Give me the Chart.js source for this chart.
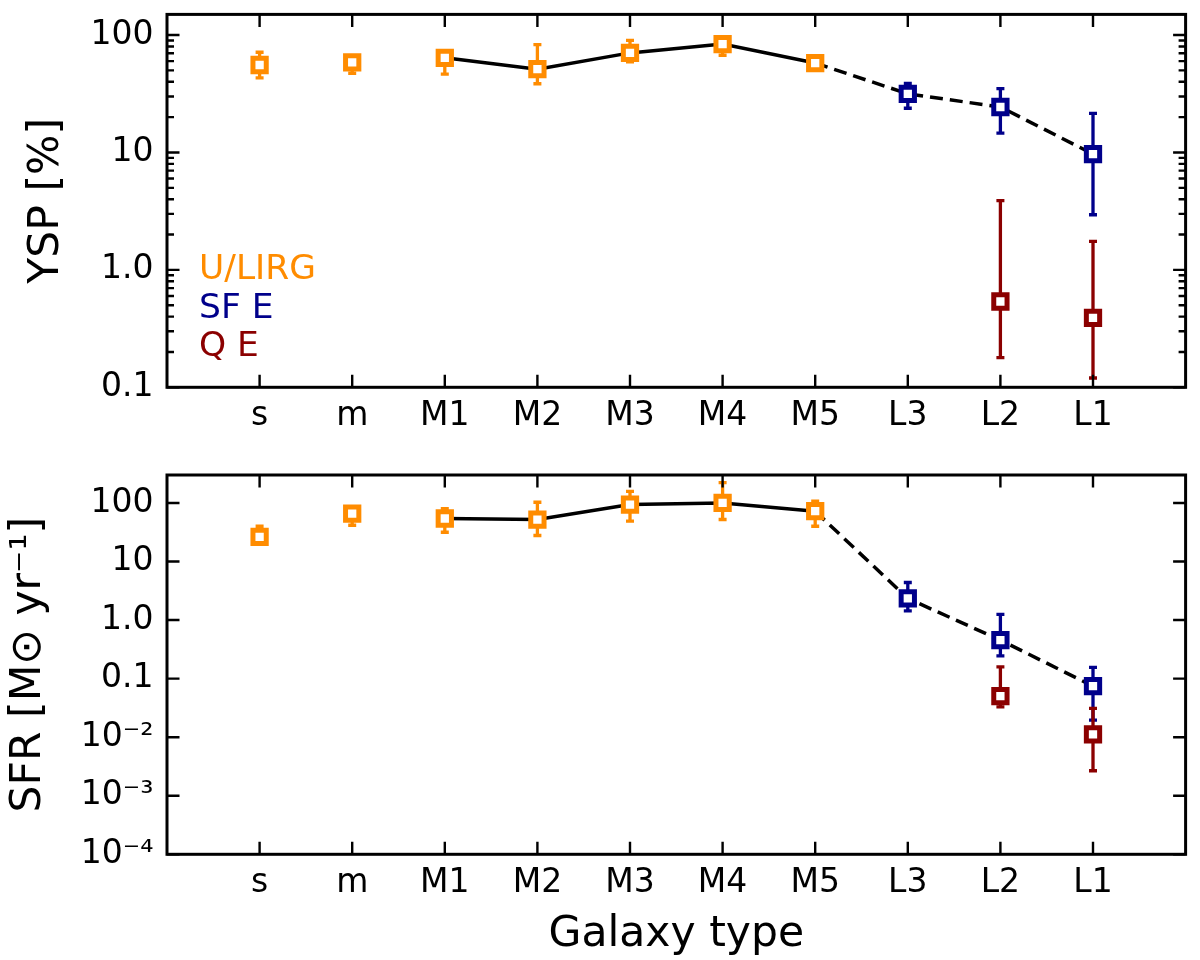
<!DOCTYPE html>
<html>
<head>
<meta charset="utf-8">
<script src="https://cdn.jsdelivr.net/npm/chart.js@4.4.1/dist/chart.umd.min.js"></script>
<style>
  html, body { margin: 0; padding: 0; background: #fff; }
  #wrap { position: relative; width: 1200px; height: 960px; }
  canvas { position: absolute; left: 0; }
</style>
</head>
<body>
<div id="wrap">
  <canvas id="ysp" width="1200" height="460" style="top:0"></canvas>
  <canvas id="sfr" width="1200" height="500" style="top:460px"></canvas>
</div>
<script>
const galaxyTypes = ['s', 'm', 'M1', 'M2', 'M3', 'M4', 'M5', 'L3', 'L2', 'L1'];

// series: U/LIRG, star-forming ellipticals, quiescent ellipticals
const ulirgTypes = ['s', 'm', 'M1', 'M2', 'M3', 'M4', 'M5'];
const sfeTypes = ['L3', 'L2', 'L1'];
const qeTypes = ['L2', 'L1'];

// YSP [%]
const ulirgYsp   = [55.6, 58.5, 64, 51.2, 70.5, 83.8, 57.8];
const ulirgYspLo = [43.2, 47.3, 46.5, 38.5, 59.2, 67.3, 55.5];
const ulirgYspHi = [71.4, 64, 69, 82.8, 90.3, 90, 60];
const sfeYsp   = [31.6, 24.4, 9.7];
const sfeYspLo = [23.8, 14.6, 2.95];
const sfeYspHi = [38.7, 35, 21.5];
const qeYsp   = [0.538, 0.391];
const qeYspLo = [0.179, 0.12];
const qeYspHi = [3.89, 1.75];

// SFR [Msun / yr]
const ulirgSfr   = [26.3, 65.9, 54.2, 52.1, 93.9, 100, 72.2];
const ulirgSfrLo = [20, 41.6, 31.6, 27.8, 48.8, 52.1, 40];
const ulirgSfrHi = [40, 80, 80.2, 102.8, 158, 223, 107];
const sfeSfr   = [2.34, 0.454, 0.0744];
const sfeSfrLo = [1.44, 0.245, 0.0196];
const sfeSfrHi = [4.38, 1.25, 0.155];
const qeSfr   = [0.0502, 0.0112];
const qeSfrLo = [0.033, 0.00267];
const qeSfrHi = [0.159, 0.031];

const yspTicks = [0.1, 1, 10, 100];
const yspTickLabels = ['0.1', '1.0', '10', '100'];
const sfrTicks = [1e-4, 1e-3, 1e-2, 0.1, 1, 10, 100];
const sfrTickLabels = ['10⁻⁴', '10⁻³', '10⁻²', '0.1', '1.0', '10', '100'];

const legendLabels = ['U/LIRG', 'SF E', 'Q E'];

const ORANGE = '#ff8c00', NAVY = '#00008b', DARKRED = '#8b0000';
const FONT = 'DejaVu Sans';

Chart.defaults.font.family = FONT;
Chart.defaults.color = '#000';

const pts = (types, vals) => types.map((t, i) => ({ x: galaxyTypes.indexOf(t), y: vals[i] }));

function markers(data, lo, hi, color) {
  return {
    data, errLo: lo, errHi: hi,
    showLine: false,
    pointStyle: 'rect',
    pointRadius: 9.4,
    pointHoverRadius: 9.4,
    pointBorderWidth: 5,
    borderColor: color,
    pointBackgroundColor: '#fff',
    order: 1
  };
}

function panelDatasets(u, uLo, uHi, s, sLo, sHi, q, qLo, qHi) {
  const uPts = pts(ulirgTypes, u);
  const sPts = pts(sfeTypes, s);
  const m1 = ulirgTypes.indexOf('M1');
  return [
    markers(uPts, uLo, uHi, ORANGE),
    markers(sPts, sLo, sHi, NAVY),
    markers(pts(qeTypes, q), qLo, qHi, DARKRED),
    { data: uPts.slice(m1), borderColor: '#000', borderWidth: 3.5, pointRadius: 0, order: 2 },
    { data: [uPts[uPts.length - 1]].concat(sPts), borderColor: '#000', borderWidth: 3.5,
      borderDash: [13, 7], pointRadius: 0, order: 2 }
  ];
}

// vertical error bars with caps, under the markers
const errorBars = {
  id: 'errorBars',
  beforeDatasetsDraw(chart) {
    const { ctx, scales: { y } } = chart;
    chart.data.datasets.forEach((ds, di) => {
      if (!ds.errLo) return;
      const meta = chart.getDatasetMeta(di);
      ctx.save();
      ctx.strokeStyle = ds.borderColor;
      ctx.lineWidth = 3.3;
      meta.data.forEach((p, i) => {
        const yl = y.getPixelForValue(ds.errLo[i]);
        const yh = y.getPixelForValue(ds.errHi[i]);
        ctx.beginPath();
        ctx.moveTo(p.x, yl); ctx.lineTo(p.x, yh);
        ctx.moveTo(p.x - 4, yl); ctx.lineTo(p.x + 4, yl);
        ctx.moveTo(p.x - 4, yh); ctx.lineTo(p.x + 4, yh);
        ctx.stroke();
      });
      ctx.restore();
    });
  }
};

// matplotlib-like box with inward ticks on all sides
const frame = {
  id: 'frame',
  afterDraw(chart, args, opts) {
    const { ctx, chartArea: a, scales: { x, y } } = chart;
    ctx.save();
    ctx.strokeStyle = '#000';
    ctx.lineWidth = 2.4;
    ctx.beginPath();
    x.ticks.forEach(t => {
      const px = x.getPixelForValue(t.value);
      ctx.moveTo(px, a.bottom); ctx.lineTo(px, a.bottom - 12.5);
      ctx.moveTo(px, a.top); ctx.lineTo(px, a.top + 12.5);
    });
    const hTick = (v, len) => {
      const py = y.getPixelForValue(v);
      ctx.moveTo(a.left, py); ctx.lineTo(a.left + len, py);
      ctx.moveTo(a.right, py); ctx.lineTo(a.right - len, py);
    };
    y.ticks.forEach(t => hTick(t.value, 12.5));
    if (opts.minor) {
      for (let e = Math.floor(Math.log10(y.min)); e <= Math.ceil(Math.log10(y.max)); e++) {
        for (let m = 2; m < 10; m++) {
          const v = m * Math.pow(10, e);
          if (v > y.min && v < y.max) hTick(v, 7);
        }
      }
    }
    ctx.stroke();
    ctx.lineWidth = 3;
    ctx.strokeRect(a.left, a.top, a.width, a.height);
    ctx.restore();
  }
};

const textLegend = {
  id: 'textLegend',
  afterDraw(chart, args, opts) {
    if (!opts.items) return;
    const { ctx, chartArea: a } = chart;
    ctx.save();
    ctx.font = '34.5px "' + FONT + '"';
    ctx.textBaseline = 'alphabetic';
    ctx.textAlign = 'left';
    opts.items.forEach((it, i) => {
      ctx.fillStyle = it.color;
      ctx.fillText(it.text, a.left + 32, a.top + 265 + i * 38.5);
    });
    ctx.restore();
  }
};

function xScale(axisHeight, title) {
  return {
    type: 'linear', min: -1, max: 10,
    afterBuildTicks: s => { s.ticks = galaxyTypes.map((t, i) => ({ value: i })); },
    afterFit: s => { s.height = axisHeight; s.paddingLeft = 0; s.paddingRight = 0; },
    grid: { display: false, drawTicks: false },
    border: { display: false },
    ticks: {
      font: { size: 33 }, color: '#000', padding: 9, autoSkip: false, maxRotation: 0,
      callback: (v, i) => galaxyTypes[i]
    },
    title: title
      ? { display: true, text: title, font: { size: 42.5 }, color: '#000', padding: { top: 0, bottom: 0 } }
      : { display: false }
  };
}

function yScale(min, max, tickVals, tickLabels, title, titlePad) {
  return {
    type: 'logarithmic', min, max,
    afterBuildTicks: s => { s.ticks = tickVals.map(v => ({ value: v })); },
    afterFit: s => { s.width = 167; s.paddingTop = 0; s.paddingBottom = 0; },
    grid: { display: false, drawTicks: false },
    border: { display: false },
    ticks: {
      font: { size: 33 }, color: '#000', padding: 13.5, autoSkip: false,
      callback: (v, i) => tickLabels[i]
    },
    title: { display: true, text: title, font: { size: 42.5 }, color: '#000', padding: { top: titlePad, bottom: 0 } }
  };
}

function makePanel(id, datasets, x, y, pad, pluginOpts) {
  return new Chart(document.getElementById(id), {
    type: 'line',
    data: { datasets },
    options: {
      responsive: false,
      animation: false,
      layout: { padding: pad },
      scales: { x, y },
      plugins: Object.assign({ legend: { display: false }, tooltip: { enabled: false } }, pluginOpts)
    },
    plugins: [errorBars, frame, textLegend]
  });
}

makePanel('ysp',
  panelDatasets(ulirgYsp, ulirgYspLo, ulirgYspHi, sfeYsp, sfeYspLo, sfeYspHi, qeYsp, qeYspLo, qeYspHi),
  xScale(460 - 387.3, null),
  yScale(0.1, 150, yspTicks, yspTickLabels, 'YSP [%]', 21.5),
  { top: 8.3, right: 5, left: 0, bottom: 0 },
  {
    frame: { minor: true },
    textLegend: { items: [
      { text: legendLabels[0], color: ORANGE },
      { text: legendLabels[1], color: NAVY },
      { text: legendLabels[2], color: DARKRED }
    ] }
  });

makePanel('sfr',
  panelDatasets(ulirgSfr, ulirgSfrLo, ulirgSfrHi, sfeSfr, sfeSfrLo, sfeSfrHi, qeSfr, qeSfrLo, qeSfrHi),
  xScale(500 - 394.3, 'Galaxy type'),
  yScale(1e-4, 300, sfrTicks, sfrTickLabels, 'SFR [M⊙ yr⁻¹]', 3),
  { top: 15, right: 5, left: 0, bottom: 0 },
  { frame: { minor: false }, textLegend: {} });
</script>
</body>
</html>
